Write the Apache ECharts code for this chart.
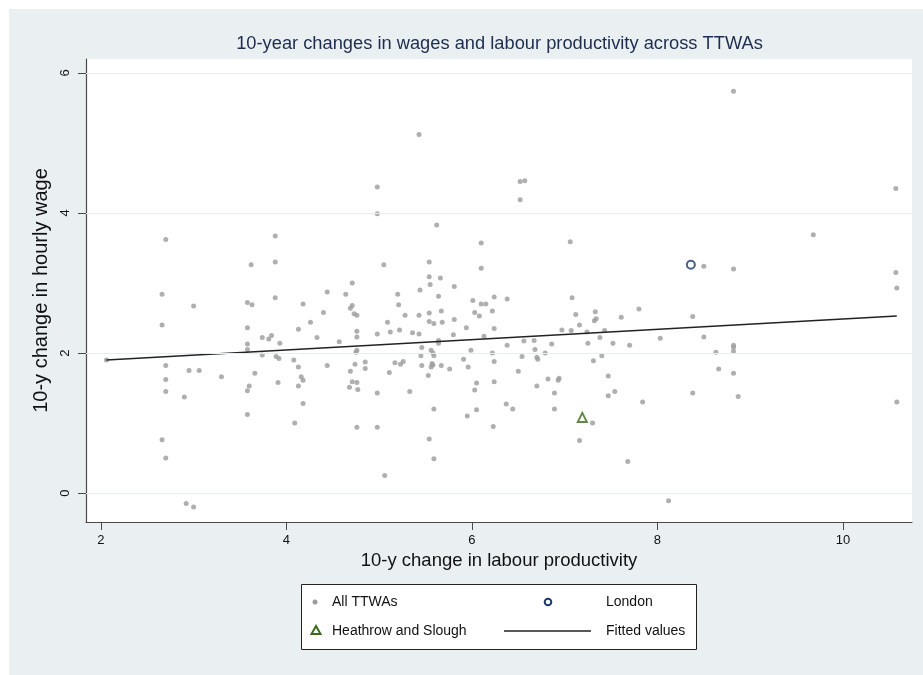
<!DOCTYPE html>
<html>
<head>
<meta charset="utf-8">
<script src="https://cdn.jsdelivr.net/npm/echarts@6/dist/echarts.min.js"></script>
<style>
html,body{margin:0;padding:0;background:#ffffff;}
#chart{width:923px;height:675px;}
</style>
</head>
<body>
<div id="chart"></div>
<script>
// ---- data ----
var ttwaX = [2.70,3.88,3.62,3.88,
 5.43,4.98,4.98,5.62,6.10,5.05,5.54,6.10,5.54,5.66,
 6.52,6.57,6.52,7.06,8.50,
 8.82,10.57,9.68,8.82,10.57,
 2.66,3.00,3.58,3.63,3.88,2.66,3.58,3.74,3.81,3.84,3.93,3.58,3.58,4.13,2.06,3.74,3.89,3.92,4.08,4.13,2.70,2.95,3.06,3.30,3.66,2.70,2.70,2.90,3.60,3.58,3.91,4.13,3.58,4.09,2.66,2.70,2.92,3.00,
 4.18,4.16,4.18,4.18,4.26,4.33,4.40,4.44,4.44,4.57,4.64,4.71,4.69,4.71,4.73,4.76,4.76,4.76,4.76,4.75,4.74,4.69,4.85,4.85,4.71,4.76,4.68,4.77,4.76,4.98,4.98,4.98,5.06,5.09,5.12,5.11,5.17,5.23,5.26,5.20,5.21,5.22,5.28,5.33,5.36,5.43,5.43,5.44,5.46,5.45,5.46,5.55,5.54,5.54,5.59,5.56,5.58,5.59,5.57,5.56,5.58,5.53,5.59,5.54,5.59,5.64,5.67,5.68,5.64,5.64,5.67,5.76,5.80,5.81,5.81,5.94,5.91,5.96,5.99,6.01,6.03,6.08,6.10,6.15,6.05,6.03,5.95,6.05,6.13,6.22,6.24,6.24,6.22,6.24,6.24,6.23,6.38,6.38,6.37,
 6.44,6.50,6.54,6.56,6.67,6.68,6.70,6.71,6.79,6.70,6.82,6.86,6.89,6.89,6.93,6.94,6.97,7.07,7.08,7.12,7.16,7.16,7.24,7.25,7.30,7.31,7.32,7.34,7.33,7.38,7.40,7.43,7.47,7.47,7.54,7.52,7.61,7.70,7.68,7.80,7.84,8.03,8.12,8.38,8.50,8.38,8.63,8.66,
 8.82,8.82,8.82,8.82,8.87,10.58,10.58];
var ttwaY = [3.62,3.67,3.26,3.30,
 5.12,4.37,3.99,3.83,3.57,3.26,3.30,3.21,3.09,3.07,
 4.45,4.46,4.19,3.59,3.24,
 5.74,4.35,3.69,3.20,3.15,
 2.84,2.67,2.72,2.69,2.79,2.40,2.36,2.22,2.20,2.25,2.14,2.13,2.05,2.34,1.90,1.97,1.95,1.92,1.90,1.80,1.82,1.75,1.75,1.66,1.71,1.62,1.45,1.37,1.53,1.46,1.58,1.53,1.12,1.00,0.76,0.50,-0.15,-0.20,
 2.70,1.66,1.61,1.28,2.44,2.22,2.58,2.87,1.82,2.16,2.84,3.00,2.64,2.68,2.56,2.54,2.31,2.23,2.04,2.01,1.84,1.74,1.87,1.78,1.59,1.58,1.51,1.48,0.94,2.27,1.43,0.94,0.25,2.44,2.30,1.72,1.86,1.84,1.88,2.84,2.69,2.33,2.54,1.45,2.29,2.27,2.54,2.90,2.08,1.96,1.82,2.98,2.57,2.45,2.42,2.04,2.00,1.96,1.85,1.80,1.83,1.68,1.20,0.77,0.49,2.81,2.60,2.44,2.18,2.14,1.82,1.77,2.26,2.48,2.95,2.36,1.91,1.80,2.04,2.75,2.58,2.53,2.70,2.70,1.57,1.47,1.10,1.19,2.24,2.60,2.80,2.35,2.00,1.88,1.59,0.95,2.77,2.11,1.27,
 1.20,1.74,1.95,2.17,2.18,2.05,1.94,1.91,2.00,1.53,1.63,2.13,1.43,1.20,1.61,1.64,2.33,2.32,2.79,2.55,2.40,0.75,2.30,2.14,1.00,1.89,2.46,2.49,2.59,2.22,1.96,2.32,1.67,1.39,1.45,2.14,2.51,2.11,0.45,2.63,1.30,2.21,-0.11,2.52,2.23,1.43,2.01,1.77,
 2.11,2.08,2.02,1.71,1.38,2.93,1.30];
var londonX = [8.36], londonY = [3.26];
var heathrowX = [7.19], heathrowY = [1.08];
var fitX = [2.06, 10.58], fitY = [1.90, 2.53];
var xTicks = [2, 4, 6, 8, 10];
var yTicks = [0, 2, 4, 6];
var titleText = '10-year changes in wages and labour productivity across TTWAs';
var xName = '10-y change in labour productivity';
var yName = '10-y change in hourly wage';
var legendNames = ['All TTWAs', 'London', 'Heathrow and Slough', 'Fitted values'];

function zip(a, b) { return a.map(function (v, i) { return [v, b[i]]; }); }

var FONT = '"Liberation Sans", Arial, Helvetica, sans-serif';
var chart = echarts.init(document.getElementById('chart'), null, {renderer: 'canvas'});

var option = {
  animation: false,
  backgroundColor: '#ffffff',
  textStyle: {fontFamily: FONT},
  grid: {left: 86, right: 11, top: 59, bottom: 153, show: true, backgroundColor: '#ffffff', borderWidth: 0},
  xAxis: {
    type: 'value', min: 1.84, max: 10.744,
    axisLine: {show: true, onZero: false, lineStyle: {color: '#4a4a4a', width: 1.2}},
    axisTick: {show: true, length: 8, customValues: xTicks, lineStyle: {color: '#4a4a4a'}},
    axisLabel: {customValues: xTicks, margin: 12, fontSize: 13, color: '#111', fontFamily: FONT},
    splitLine: {show: false},
    name: xName, nameLocation: 'middle', nameGap: 29,
    nameTextStyle: {fontSize: 18.5, color: '#111', fontFamily: FONT}
  },
  yAxis: {
    type: 'value', min: -0.414, max: 6.2,
    axisLine: {show: true, onZero: false, lineStyle: {color: '#4a4a4a', width: 1.2}},
    axisTick: {show: true, length: 8, customValues: yTicks, lineStyle: {color: '#4a4a4a'}},
    axisLabel: {customValues: yTicks, rotate: 90, margin: 14, fontSize: 13, color: '#111', fontFamily: FONT},
    splitLine: {show: false},
    name: yName, nameLocation: 'middle', nameGap: 31, nameRotate: 90,
    nameTextStyle: {fontSize: 20, color: '#111', fontFamily: FONT}
  },
  graphic: [
    {type: 'rect', z: -10, silent: true, shape: {x: 9, y: 9, width: 914, height: 666}, style: {fill: '#eaeff2'}},
    {type: 'text', z: 10, silent: true,
     style: {x: 499.5, y: 44, text: titleText, textAlign: 'center', textVerticalAlign: 'middle', fontSize: 18.3, fill: '#1d2d4e', fontFamily: FONT}},
    {type: 'rect', z: 10, silent: true, shape: {x: 301.5, y: 584.5, width: 395, height: 65}, style: {fill: '#ffffff', stroke: '#222', lineWidth: 1}},
    {type: 'circle', z: 11, silent: true, shape: {cx: 315, cy: 602, r: 2.5}, style: {fill: '#9b9b9b'}},
    {type: 'text', z: 11, silent: true, style: {x: 332, y: 602, text: legendNames[0], textVerticalAlign: 'middle', fontSize: 14, fill: '#111', fontFamily: FONT}},
    {type: 'circle', z: 11, silent: true, shape: {cx: 548, cy: 602, r: 3.3}, style: {fill: 'none', stroke: '#1c3a6c', lineWidth: 2}},
    {type: 'text', z: 11, silent: true, style: {x: 606, y: 602, text: legendNames[1], textVerticalAlign: 'middle', fontSize: 14, fill: '#111', fontFamily: FONT}},
    {type: 'polygon', z: 11, silent: true, shape: {points: [[316, 626], [320.5, 634], [311.5, 634]]}, style: {fill: 'none', stroke: '#3a6b1c', lineWidth: 2}},
    {type: 'text', z: 11, silent: true, style: {x: 332, y: 631, text: legendNames[2], textVerticalAlign: 'middle', fontSize: 14, fill: '#111', fontFamily: FONT}},
    {type: 'line', z: 11, silent: true, shape: {x1: 504, y1: 631, x2: 591, y2: 631}, style: {stroke: '#222', lineWidth: 1.5}},
    {type: 'text', z: 11, silent: true, style: {x: 606, y: 631, text: legendNames[3], textVerticalAlign: 'middle', fontSize: 14, fill: '#111', fontFamily: FONT}}
  ],
  series: [
    {
      name: 'grid', type: 'line', data: [], silent: true,
      markLine: {silent: true, symbol: 'none', label: {show: false},
        lineStyle: {color: '#e8eef0', width: 1.2, type: 'solid'},
        data: yTicks.map(function (v) { return {yAxis: v}; })}
    },
    {
      name: legendNames[0], type: 'scatter', data: zip(ttwaX, ttwaY),
      symbol: 'circle', symbolSize: 5, itemStyle: {color: '#9b9b9b'}, z: 3
    },
    {
      name: legendNames[3], type: 'line', data: zip(fitX, fitY),
      symbol: 'none', lineStyle: {color: '#222', width: 1.5}, z: 4
    },
    {
      name: legendNames[1], type: 'scatter', data: zip(londonX, londonY),
      symbol: 'circle', symbolSize: 8, itemStyle: {color: 'rgba(0,0,0,0)', borderColor: '#1c3a6c', borderWidth: 2}, z: 5
    },
    {
      name: legendNames[2], type: 'scatter', data: zip(heathrowX, heathrowY),
      symbol: 'triangle', symbolSize: 9, itemStyle: {color: 'rgba(0,0,0,0)', borderColor: '#3a6b1c', borderWidth: 2}, z: 5
    }
  ]
};
chart.setOption(option);
</script>
</body>
</html>
